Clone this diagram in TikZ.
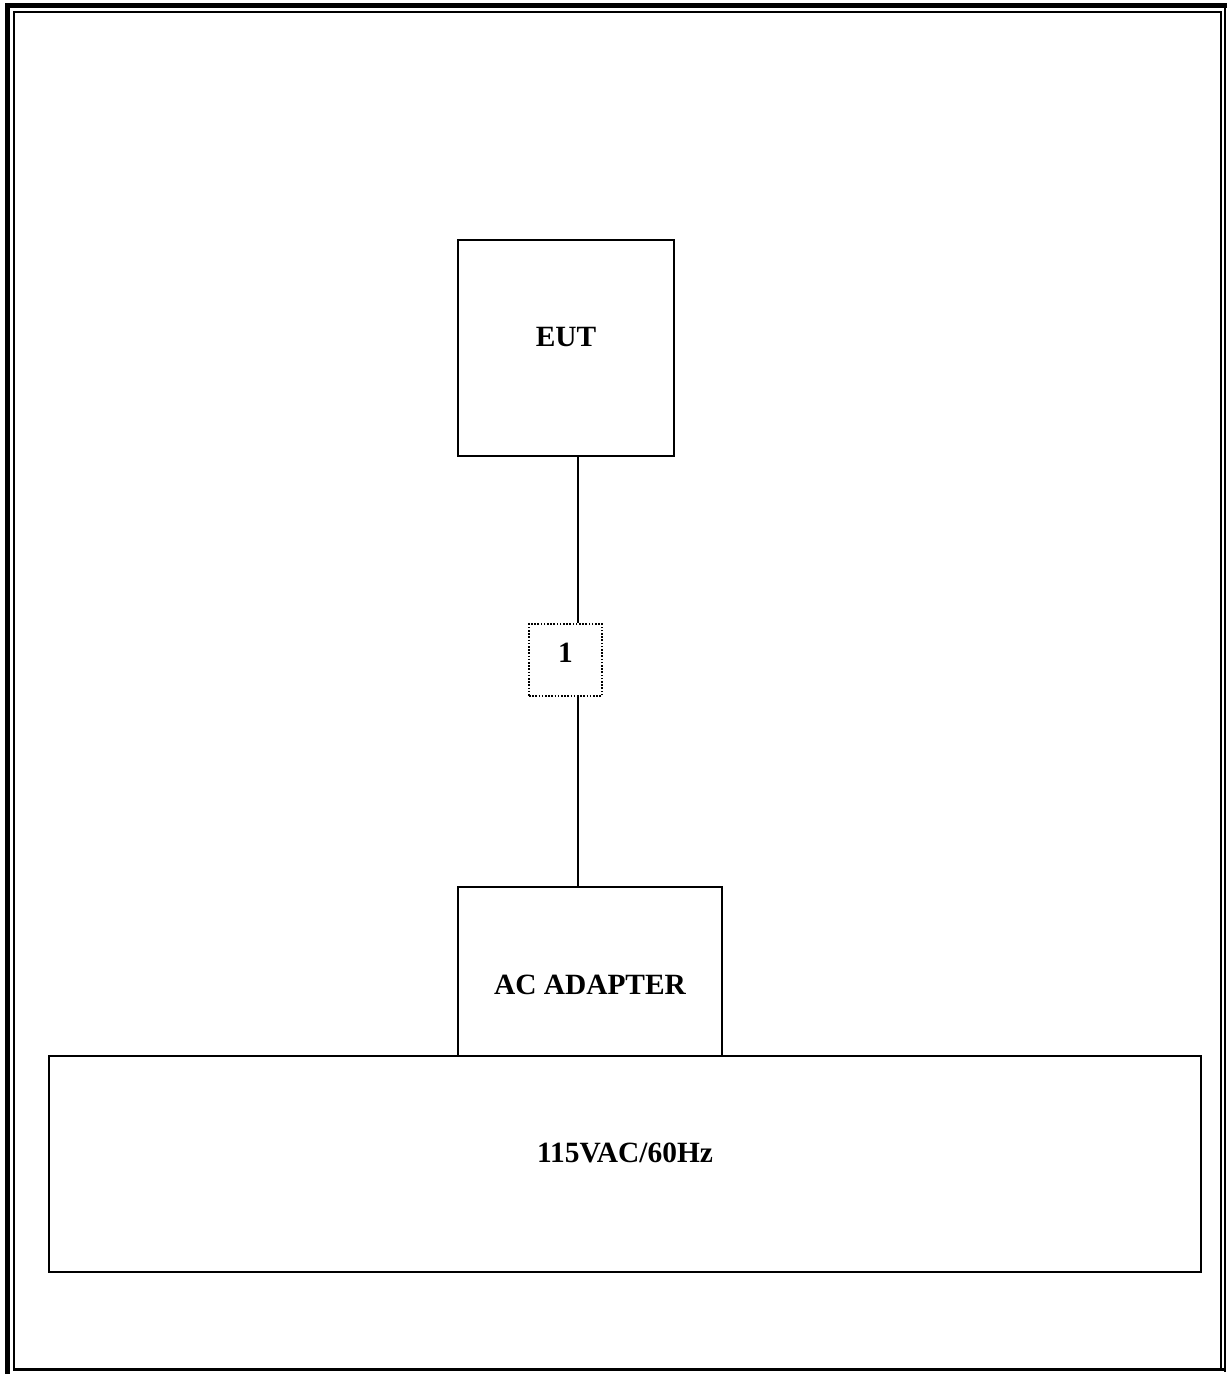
\documentclass[tikz,border=0pt]{standalone}
\usepackage{fontspec}
\setmainfont{Liberation Serif}
\usetikzlibrary{positioning, fit}

\begin{document}
\begin{tikzpicture}[x=0.5pt, y=-0.5pt,
    box/.style={draw, line width=1pt, inner sep=0pt},
    plug/.style={draw, line width=0.8pt, dash pattern=on 0.8pt off 0.8pt, inner sep=0pt},
    lbl/.style={anchor=base, inner sep=0pt, font=\bfseries\fontsize{14.7}{17}\selectfont},
    cable/.style={line width=1pt}]
    \useasboundingbox (0,0) rectangle (1228,1374);
    % page frame
    \draw[line width=2.6pt] (7.5,1374) -- (7.5,5.5) -- (1227,5.5);
    \draw[line width=0.8pt] (1225,4) -- (1225,1372);
    \draw[line width=1pt] (14,1370) -- (14,12) -- (1221,12) -- (1221,1370);
    \draw[line width=1.5pt] (13,1369.5) -- (1226,1369.5);
    % boxes
    \node[box, fit={(458,240) (674,456)}] (eut) {};
    \node[plug, fit={(529,624) (602,696)}] (one) {};
    \node[box, fit={(458,887) (722,1056)}] (adapter) {};
    \node[box, fit={(49,1056) (1201,1272)}] (mains) {};
    % texts
    \node[lbl] (euttxt) at (566,346) {EUT};
    \node[lbl] (onetxt) at (565.5,662.5) {1};
    \node[lbl] (adaptertxt) at (590,994) {AC ADAPTER};
    \node[lbl] (mainstxt) at (625,1162) {115VAC/60Hz};
    % cable
    \coordinate (cab) at (578,0);
    \draw[cable] (eut.south -| cab) -- (one.north -| cab);
    \draw[cable] (one.south -| cab) -- (adapter.north -| cab);
\end{tikzpicture}
\end{document}
